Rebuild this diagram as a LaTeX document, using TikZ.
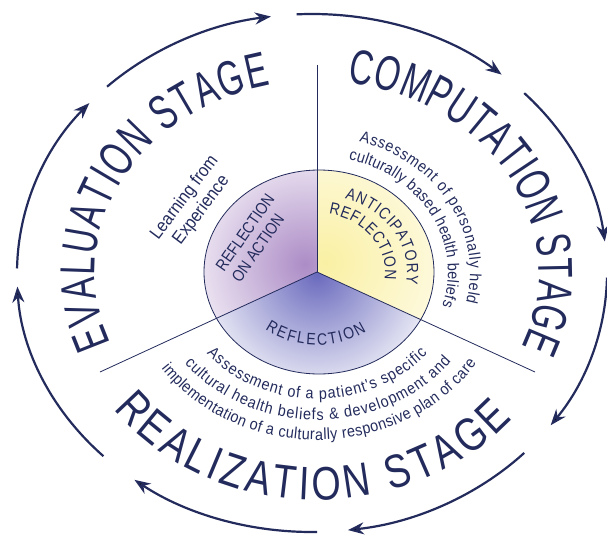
\documentclass[tikz,border=0pt]{standalone}
\usepackage{fontspec}
\setmainfont{Liberation Sans}
\newfontfamily\stagefamily[FakeStretch=0.67]{Liberation Sans}
\newfontfamily\lowstagefamily[FakeStretch=0.8]{Liberation Sans}
\newfontfamily\notefamily[FakeStretch=0.9]{Liberation Sans}
\newfontfamily\phasefamily[FakeStretch=0.85]{Liberation Sans}
\usetikzlibrary{arrows.meta,decorations.text}

\definecolor{navy}{HTML}{232B5C}
\definecolor{lilac}{HTML}{AC8CC6}
\definecolor{butter}{HTML}{FAF0A4}
\definecolor{indigo}{HTML}{6A6ABE}

\newcommand\stagefont{\stagefamily\fontsize{49}{54}\selectfont}
\newcommand\lowstagefont{\lowstagefamily\fontsize{47}{52}\selectfont}
\newcommand\notefont{\notefamily\fontsize{16}{19}\selectfont}
\newcommand\phasefont{\phasefamily\fontsize{16.5}{19.5}\selectfont}

\tikzset{
  cycle arrow/.style={line width=2.2pt, draw=navy, -{Stealth[length=16pt,width=12pt]}},
  spoke/.style={draw=navy, line width=0.8pt},
  curved text/.style={decorate, decoration={text along path, text align={fit to path}, text color=navy}},
  note/.style={text=navy, font=\notefont, inner sep=0pt},
  phase/.style={text=navy, font=\phasefont, inner sep=0pt},
}

\begin{document}
\begin{tikzpicture}[x=1pt,y=1pt]

    \useasboundingbox (-317,-264) rectangle (290,272);

    \coordinate (ctr) at (0,0);
    \coordinate (ring) at (-5,-1);
    \coordinate (hub) at (2,0);
    \coordinate (top) at (0,207);
    \coordinate (lleft) at (-217,-100);
    \coordinate (lright) at (218,-100);

    % shaded sectors of the hub
    \begin{scope}
      \clip (hub) ellipse [x radius=115pt, y radius=102pt];
      \begin{scope}
        \clip (ctr) -- (0,150) -- (-260,150) -- (-260,-120) -- cycle;
        \shade[inner color=lilac, outer color=white] (-12,8) circle (140pt);
      \end{scope}
      \begin{scope}
        \clip (ctr) -- (0,150) -- (260,150) -- (260,-120) -- cycle;
        \shade[inner color=butter, outer color=white] (8,10) circle (185pt);
      \end{scope}
      \begin{scope}
        \clip (ctr) -- (-260,-120) -- (-260,-160) -- (260,-160) -- (260,-120) -- cycle;
        \shade[inner color=indigo, outer color=white] (0,-2) circle (135pt);
      \end{scope}
    \end{scope}

    \draw[spoke] (hub) ellipse [x radius=115pt, y radius=102pt];
    \draw[spoke] (ctr) -- (top);
    \draw[spoke] (ctr) -- (lleft);
    \draw[spoke] (ctr) -- (lright);

    % stage names
    \path[curved text, decoration={text={|\stagefont|EVALUATION STAGE}}]
      ([shift={(202:222pt and 191pt)}]ctr) arc[start angle=202, end angle=102, x radius=222pt, y radius=191pt];
    \path[curved text, decoration={text={|\stagefont|COMPUTATION STAGE}}]
      ([shift={(82:222pt and 191pt)}]ctr) arc[start angle=82, end angle=-23, x radius=222pt, y radius=191pt];
    \path[curved text, decoration={text={|\lowstagefont|REALIZATION STAGE}}]
      ([shift={(217:255pt and 228pt)}]ctr) arc[start angle=217, end angle=320, x radius=255pt, y radius=228pt];

    % notes
    \node[note, font=\notefamily\fontsize{18}{21}\selectfont, rotate=53, align=center] (learning) at (-124,68) {Learning from\\Experience};
    \path[curved text, decoration={text={|\notefont|Assessment of personally held}}]
      ([shift={(74:153pt and 136pt)}]ctr) arc[start angle=74, end angle=-13, x radius=153pt, y radius=136pt];
    \path[curved text, decoration={text={|\notefont|culturally based health beliefs}}]
      ([shift={(76:131pt and 116pt)}]ctr) arc[start angle=76, end angle=-17, x radius=131pt, y radius=116pt];
    \path[curved text, decoration={text={|\notefont|Assessment of a patient's specific}}]
      ([shift={(220:144pt and 127pt)}]ctr) arc[start angle=220, end angle=320, x radius=144pt, y radius=127pt];
    \path[curved text, decoration={text={|\notefont|cultural health beliefs {\&} development and}}]
      ([shift={(218:168pt and 148pt)}]ctr) arc[start angle=218, end angle=323, x radius=168pt, y radius=148pt];
    \path[curved text, decoration={text={|\notefont|implementation of a culturally responsive plan of care}}]
      ([shift={(215:190pt and 168pt)}]ctr) arc[start angle=215, end angle=327, x radius=190pt, y radius=168pt];

    % phases of reflection
    \node[phase, rotate=55, align=left] (onaction) at (-64,34) {REFLECTION\\ON ACTION};
    \path[curved text, decoration={text={|\phasefont|ANTICIPATORY}}]
      ([shift={(72:90pt and 77pt)}]ctr) arc[start angle=72, end angle=-9, x radius=90pt, y radius=77pt];
    \path[curved text, decoration={text={|\phasefont|REFLECTION}}]
      ([shift={(80:68pt and 59pt)}]ctr) arc[start angle=80, end angle=-7, x radius=68pt, y radius=59pt];
    \path[curved text, decoration={text={|\phasefont|REFLECTION}}]
      ([shift={(232:84pt and 73pt)}]ctr) arc[start angle=232, end angle=306, x radius=84pt, y radius=73pt];

    % cycle arrows
    \foreach \a/\b in {134/98, 93/50, 44/7, -1/-36, -44/-83, -89/-127, -135/-177, -181/-221}
      \draw[cycle arrow] ([shift={(\a:295pt and 259pt)}]ring) arc[start angle=\a, end angle=\b, x radius=295pt, y radius=259pt];

\end{tikzpicture}
\end{document}
